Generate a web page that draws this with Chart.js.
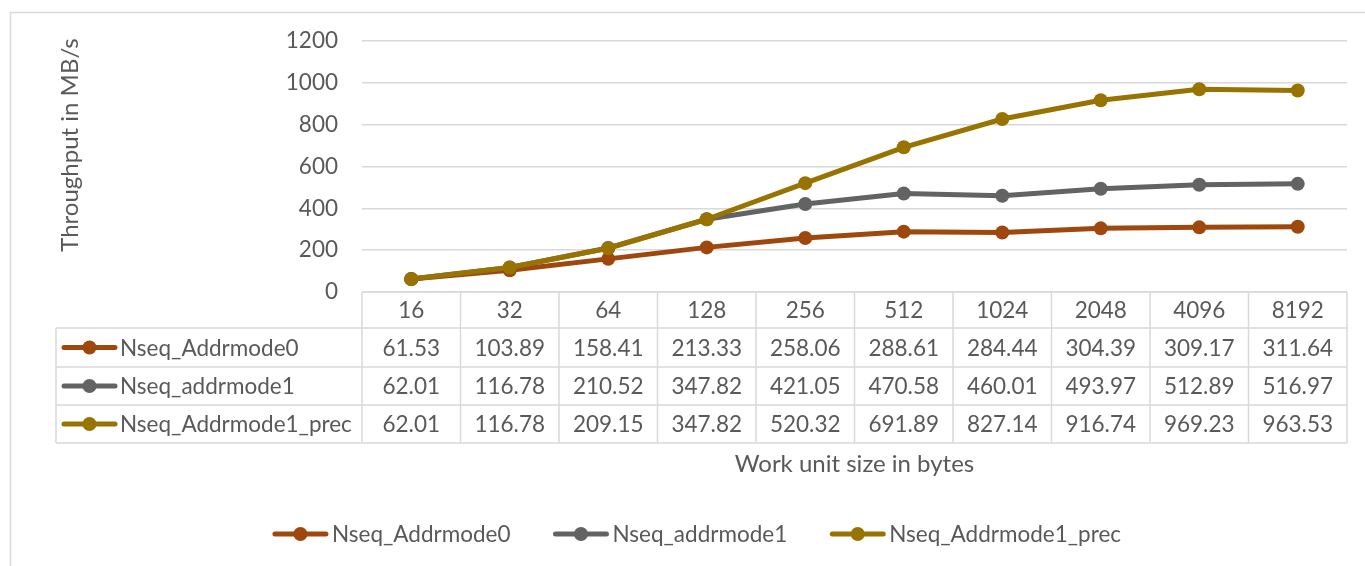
<!DOCTYPE html>
<html>
<head>
<meta charset="utf-8">
<script src="https://cdn.jsdelivr.net/npm/chart.js@4.4.0/dist/chart.umd.min.js"></script>
<style>
  html, body { margin: 0; padding: 0; background: #ffffff; overflow: hidden; }
  #wrap { width: 1365px; height: 566px; position: relative; }
  canvas { display: block; }
</style>
</head>
<body>
<div id="wrap"><canvas id="chart" width="1365" height="566"></canvas></div>
<script>
// Work unit sizes (bytes) along the x axis
const workUnitSizes = ['16', '32', '64', '128', '256', '512', '1024', '2048', '4096', '8192'];

// Throughput in MB/s for each addressing mode
const nseqAddrmode0     = [61.53, 103.89, 158.41, 213.33, 258.06, 288.61, 284.44, 304.39, 309.17, 311.64];
const nseqAddrmode1     = [62.01, 116.78, 210.52, 347.82, 421.05, 470.58, 460.01, 493.97, 512.89, 516.97];
const nseqAddrmode1Prec = [62.01, 116.78, 209.15, 347.82, 520.32, 691.89, 827.14, 916.74, 969.23, 963.53];

const seriesNames  = ['Nseq_Addrmode0', 'Nseq_addrmode1', 'Nseq_Addrmode1_prec'];
const seriesValues = [nseqAddrmode0, nseqAddrmode1, nseqAddrmode1Prec];
const seriesColors = ['#9E480E', '#636363', '#997300'];

// Value axis
const yMin = 0, yMax = 1200, yStep = 200;

const yTitle = 'Throughput in MB/s';
const xTitle = 'Work unit size in bytes';

const FONT = 'Lato, Carlito, "Open Sans", sans-serif';
const TEXT = '#595959';
const RULE = '#d9d9d9';
const LINE_W = 5;
const MARK_R = 7;
const LABEL_PX = 22.5;
const TITLE_PX = 24;

function drawKey(ctx, x0, y, color) {
  ctx.save();
  ctx.strokeStyle = color;
  ctx.lineWidth = LINE_W;
  ctx.lineCap = 'round';
  ctx.beginPath();
  ctx.moveTo(x0 + 2, y);
  ctx.lineTo(x0 + 53, y);
  ctx.stroke();
  ctx.fillStyle = color;
  ctx.beginPath();
  ctx.arc(x0 + 27.5, y, MARK_R, 0, Math.PI * 2);
  ctx.fill();
  ctx.restore();
}

// Chart frame, data table under the plot, axis titles and legend
const tableAndDecor = {
  id: 'tableAndDecor',
  beforeDraw(chart) {
    const ctx = chart.ctx;
    ctx.save();
    ctx.fillStyle = '#ffffff';
    ctx.fillRect(0, 0, chart.width, chart.height);
    ctx.strokeStyle = RULE;
    ctx.lineWidth = 1.5;
    ctx.strokeRect(10.5, 12.5, chart.width + 40, chart.height + 40);
    ctx.restore();
  },
  afterDraw(chart) {
    const ctx = chart.ctx;
    const xs = chart.scales.x;
    const area = chart.chartArea;
    const half = (xs.getPixelForValue(1) - xs.getPixelForValue(0)) / 2;
    const left = xs.getPixelForValue(0) - half;
    const right = xs.getPixelForValue(workUnitSizes.length - 1) + half;
    const labelLeft = 56;
    const top = area.bottom;
    const rowEdges = [top, 328, 367, 405, 443];

    ctx.save();
    ctx.strokeStyle = RULE;
    ctx.lineWidth = 1.5;
    ctx.beginPath();
    ctx.moveTo(left, rowEdges[0]); ctx.lineTo(right, rowEdges[0]);
    for (let r = 1; r < rowEdges.length; r++) {
      ctx.moveTo(labelLeft, rowEdges[r]); ctx.lineTo(right, rowEdges[r]);
    }
    for (let i = 0; i <= workUnitSizes.length; i++) {
      const x = left + i * half * 2;
      ctx.moveTo(x, rowEdges[0]); ctx.lineTo(x, rowEdges[rowEdges.length - 1]);
    }
    ctx.moveTo(labelLeft, rowEdges[1]); ctx.lineTo(labelLeft, rowEdges[rowEdges.length - 1]);
    ctx.stroke();

    ctx.fillStyle = TEXT;
    ctx.font = LABEL_PX + 'px ' + FONT;
    ctx.textBaseline = 'middle';
    ctx.textAlign = 'center';
    workUnitSizes.forEach((s, i) => {
      ctx.fillText(s, xs.getPixelForValue(i), (rowEdges[0] + rowEdges[1]) / 2 + 1);
    });
    seriesValues.forEach((vals, r) => {
      const yMid = (rowEdges[r + 1] + rowEdges[r + 2]) / 2 + 1;
      ctx.textAlign = 'center';
      vals.forEach((v, i) => {
        ctx.fillText(v.toFixed(2), xs.getPixelForValue(i), yMid);
      });
      drawKey(ctx, 62, yMid - 1, seriesColors[r]);
      ctx.fillStyle = TEXT;
      ctx.textAlign = 'left';
      ctx.fillText(seriesNames[r], 120, yMid);
    });

    // x axis title
    ctx.font = TITLE_PX + 'px ' + FONT;
    ctx.textAlign = 'center';
    ctx.fillText(xTitle, (area.left + area.right) / 2, 464);

    // y axis title
    ctx.save();
    ctx.translate(70, 145);
    ctx.rotate(-Math.PI / 2);
    ctx.fillText(yTitle, 0, 0);
    ctx.restore();

    // legend
    ctx.font = LABEL_PX + 'px ' + FONT;
    const gap = 43, keyW = 59;
    const widths = seriesNames.map(n => keyW + ctx.measureText(n).width);
    const total = widths.reduce((a, b) => a + b, 0) + gap * (widths.length - 1);
    let lx = 697 - total / 2;
    const ly = 534;
    seriesNames.forEach((n, i) => {
      drawKey(ctx, lx, ly, seriesColors[i]);
      ctx.fillStyle = TEXT;
      ctx.textAlign = 'left';
      ctx.fillText(n, lx + keyW, ly + 1);
      lx += widths[i] + gap;
    });
    ctx.restore();
  }
};

const datasets = seriesNames.map((name, i) => ({
  label: name,
  data: seriesValues[i],
  borderColor: seriesColors[i],
  backgroundColor: seriesColors[i],
  pointBackgroundColor: seriesColors[i],
  pointBorderColor: seriesColors[i],
  borderWidth: LINE_W,
  pointRadius: MARK_R,
  pointHoverRadius: MARK_R,
  pointBorderWidth: 0,
  borderJoinStyle: 'round',
  tension: 0,
  order: seriesNames.length - i
}));

new Chart(document.getElementById('chart'), {
  type: 'line',
  data: { labels: workUnitSizes, datasets },
  plugins: [tableAndDecor],
  options: {
    responsive: false,
    animation: false,
    devicePixelRatio: 1,
    layout: { padding: { left: 0, right: 18, top: 41, bottom: 274 } },
    plugins: { legend: { display: false }, tooltip: { enabled: false } },
    scales: {
      x: { type: 'category', offset: true, display: false },
      y: {
        min: yMin, max: yMax,
        ticks: {
          stepSize: yStep,
          padding: 24,
          color: TEXT,
          font: { family: FONT, size: LABEL_PX },
          callback: v => String(v)
        },
        grid: { color: RULE, lineWidth: 1.5, drawTicks: false },
        border: { display: false },
        afterFit(scale) { scale.width = 362; }
      }
    }
  }
});
</script>
</body>
</html>
